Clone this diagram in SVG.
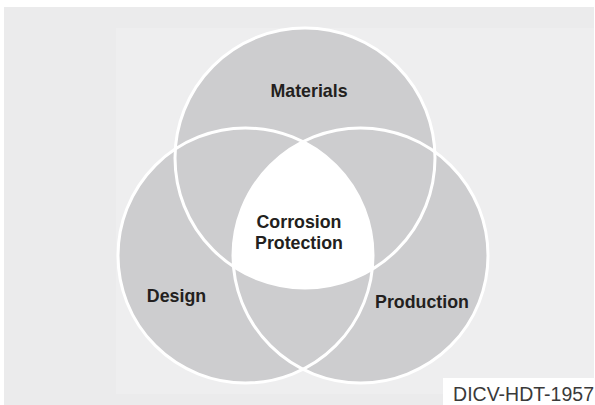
<svg xmlns="http://www.w3.org/2000/svg" width="595" height="405" viewBox="0 0 595 405">
  <style>
    .fill { fill: #cdcdcf; }
    .ring { fill: none; stroke: #ffffff; stroke-width: 3; }
    .lbl { font-family: "Liberation Sans", Arial, Helvetica, sans-serif; font-weight: bold; font-size: 17.8px; fill: #231f20; text-anchor: middle; }
    .code { font-family: "Liberation Sans", Arial, Helvetica, sans-serif; font-size: 19.5px; fill: #3a3a3a; text-anchor: end; }
  </style>
  <defs>
    <clipPath id="clipM"><circle cx="305" cy="158" r="130"/></clipPath>
    <clipPath id="clipD"><circle cx="245.5" cy="255.5" r="127.5"/></clipPath>
  </defs>
  <rect x="0" y="0" width="595" height="405" fill="#ffffff"/>
  <rect x="4" y="7" width="590" height="398" fill="#ebebec"/>
  <rect x="116" y="28" width="478" height="366" fill="#eeeeef"/>

  <g id="materials">
    <circle class="fill" cx="305" cy="158" r="130"/>
  </g>
  <g id="design">
    <circle class="fill" cx="245.5" cy="255.5" r="127.5"/>
  </g>
  <g id="production">
    <circle class="fill" cx="360.5" cy="255.5" r="127.5"/>
  </g>
  <g id="corrosion-protection">
    <g clip-path="url(#clipM)">
      <g clip-path="url(#clipD)">
        <circle cx="360.5" cy="255.5" r="127.5" fill="#ffffff"/>
      </g>
    </g>
  </g>
  <g id="outlines">
    <circle class="ring" cx="305" cy="158" r="130"/>
    <circle class="ring" cx="245.5" cy="255.5" r="127.5"/>
    <circle class="ring" cx="360.5" cy="255.5" r="127.5"/>
  </g>

  <g id="labels">
    <text class="lbl" x="309" y="97">Materials</text>
    <text class="lbl" x="299" y="228">Corrosion</text>
    <text class="lbl" x="299" y="249">Protection</text>
    <text class="lbl" x="176.5" y="302">Design</text>
    <text class="lbl" x="422" y="308">Production</text>
  </g>

  <g id="code-label">
    <rect x="443" y="378" width="152" height="27" fill="#ffffff"/>
    <text class="code" x="594" y="401">DICV-HDT-1957</text>
  </g>
</svg>
